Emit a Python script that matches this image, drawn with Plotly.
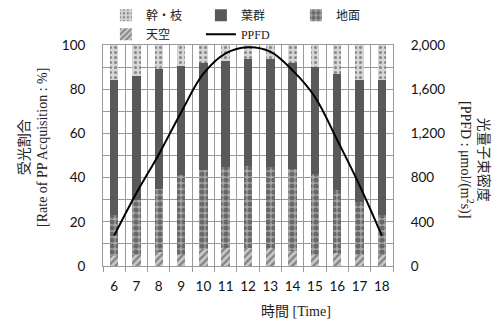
import plotly.graph_objects as go

hours = [6, 7, 8, 9, 10, 11, 12, 13, 14, 15, 16, 17, 18]
# stacked percentages (bottom -> top)
sky = [4.5, 5, 6.5, 5, 7.5, 8, 8, 8, 7, 5, 6, 5, 5]
ground_top = [23, 30, 35, 41, 43.6, 44.7, 45.4, 45, 44, 41.7, 34.3, 29, 23]
foliage_top = [84, 86, 89, 90.5, 92, 92.8, 93.5, 93.5, 92, 90, 87, 84, 84]
ground = [round(g - s, 2) for g, s in zip(ground_top, sky)]
foliage = [round(f - g, 2) for f, g in zip(foliage_top, ground_top)]
trunk = [round(100 - f, 2) for f in foliage_top]
ppfd = [275, 660, 1010, 1390, 1740, 1925, 1980, 1940, 1770, 1530, 1140, 730, 275]

serif = "Liberation Serif, Noto Sans CJK JP, serif"
sans = "Lato, Carlito, Open Sans, sans-serif"

fig = go.Figure()
bw = 0.38
fig.add_trace(go.Bar(x=hours, y=sky, name="天空", width=bw, legendrank=4,
                     marker=dict(color="#bfbfbf", line=dict(width=0),
                                 pattern=dict(shape="/", fgcolor="#3a3a3a", bgcolor="#c8c8c8",
                                              size=5, solidity=0.45))))
fig.add_trace(go.Bar(x=hours, y=ground, name="地面", width=bw, legendrank=3,
                     marker=dict(color="#a6a6a6", line=dict(width=0),
                                 pattern=dict(shape=".", fgcolor="#2a2a2a", bgcolor="#a8a8a8",
                                              size=6, solidity=0.6))))
fig.add_trace(go.Bar(x=hours, y=foliage, name="葉群", width=bw, legendrank=2,
                     marker=dict(color="#595959", line=dict(width=0))))
fig.add_trace(go.Bar(x=hours, y=trunk, name="幹・枝", width=bw, legendrank=1,
                     marker=dict(color="#d9d9d9", line=dict(width=0),
                                 pattern=dict(shape=".", fgcolor="#3a3a3a", bgcolor="#d6d6d6",
                                              size=5, solidity=0.3))))
fig.add_trace(go.Scatter(x=hours, y=ppfd, name="PPFD", yaxis="y2", mode="lines",
                         line=dict(color="black", width=2, shape="spline"), legendrank=5))

grid = "#9a9a9a"
# page body has an 8px default margin; figure sized so it ends at the window edge
W, H = 493, 312
fig.update_layout(
    width=W, height=H,
    margin=dict(l=95, r=108, t=37, b=54, autoexpand=False),
    paper_bgcolor="white", plot_bgcolor="white",
    barmode="stack", bargap=0,
    showlegend=True,
    legend=dict(orientation="h", xref="paper", yref="paper",
                x=0.01, xanchor="left", y=1.2, yanchor="top",
                traceorder="normal",
                entrywidth=50, entrywidthmode="pixels", itemwidth=30,
                font=dict(family=serif, size=12, color="#222"),
                tracegroupgap=0, bgcolor="rgba(0,0,0,0)"),
    xaxis=dict(range=[5.5, 18.5], tickmode="linear", tick0=6, dtick=1,
               showgrid=False, ticks="", showline=True, linecolor=grid, linewidth=1,
               mirror=True, zeroline=False,
               tickfont=dict(family=sans, size=13.5, color="#111"),
               ticklabelstandoff=8,
               minor=dict(tick0=5.5, dtick=1, showgrid=True, gridcolor=grid,
                          gridwidth=1, ticks="outside", ticklen=5, tickcolor=grid)),
    yaxis=dict(range=[0, 100], dtick=20, showgrid=True, gridcolor=grid, gridwidth=1,
               showline=True, linecolor=grid, mirror=False, zeroline=False, ticks="",
               tickfont=dict(family=sans, size=13.5, color="#111"), ticklabelstandoff=14,
               minor=dict(dtick=10, showgrid=True, gridcolor=grid, gridwidth=1)),
    yaxis2=dict(range=[0, 2000], dtick=400, overlaying="y", side="right", showgrid=False,
                showline=True, linecolor=grid, zeroline=False, ticks="", tickformat=",",
                tickfont=dict(family=sans, size=13.5, color="#111"), ticklabelstandoff=14),
    annotations=[
        dict(text="受光割合<br>[Rate of PP Acquisition : %]", xref="paper", yref="paper",
             x=-0.24, y=0.536, xanchor="center", yanchor="middle", textangle=-90,
             showarrow=False, font=dict(family=serif, size=14, color="#222")),
        dict(text="光量子束密度<br>[PPFD : μmol/(m<sup>2</sup>s)]", xref="paper", yref="paper",
             x=1.279, y=0.48, xanchor="center", yanchor="middle", textangle=90,
             showarrow=False, font=dict(family=serif, size=14, color="#222")),
        dict(text="時間 [Time]", xref="paper", yref="paper", x=0.666, y=-0.204,
             xanchor="center", yanchor="middle", showarrow=False,
             font=dict(family=serif, size=14, color="#222")),
    ],
)

fig.write_html("out.html")
